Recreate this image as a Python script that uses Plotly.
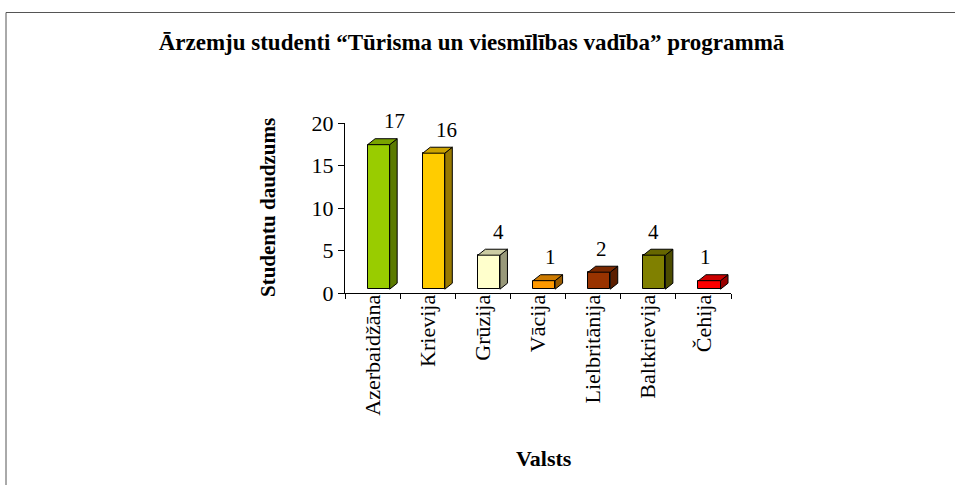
import plotly.graph_objects as go

# ---- data ----
countries = ["Azerbaidžāna", "Krievija", "Grūzija", "Vācija", "Lielbritānija", "Baltkrievija", "Čehija"]
students = [17, 16, 4, 1, 2, 4, 1]
front_colors = ["#99CC00", "#FFCC00", "#FFFFCC", "#FF9900", "#993300", "#808000", "#FF0000"]
y_ticks = [0, 5, 10, 15, 20]
y_range = [0, 20]

title_text = "Ārzemju studenti “Tūrisma un viesmīlības vadība” programmā"
y_title = "Studentu daudzums"
x_title = "Valsts"

# ---- style / geometry (3D look) ----
FLOOR = 0.45      # floor raise of front faces (data units)
BAR_W = 0.40      # front face width (category units)
SHIFT = 0.11      # front face shift right of category centre
DX = 0.136        # depth offset x
DY = 0.70         # depth offset y
SERIF = "Liberation Serif, Times New Roman, serif"


def shade(hex_color, f):
    h = hex_color.lstrip("#")
    r, g, b = (int(h[i:i + 2], 16) for i in (0, 2, 4))
    return "#%02X%02X%02X" % (int(r * f), int(g * f), int(b * f))


fig = go.Figure()
xs = [i + SHIFT for i in range(len(countries))]

# front faces
fig.add_trace(go.Bar(
    x=xs, y=students, base=[FLOOR] * len(students), width=BAR_W,
    marker=dict(color=front_colors, line=dict(color="black", width=1)),
    hoverinfo="skip", showlegend=False,
))

# side and top faces
for i, (v, c) in enumerate(zip(students, front_colors)):
    x0 = xs[i] - BAR_W / 2
    x1 = xs[i] + BAR_W / 2
    top = v + FLOOR
    side_x = [x1, x1 + DX, x1 + DX, x1, x1]
    side_y = [FLOOR, FLOOR + DY, top + DY, top, FLOOR]
    top_x = [x0, x1, x1 + DX, x0 + DX, x0]
    top_y = [top, top, top + DY, top + DY, top]
    fig.add_trace(go.Scatter(x=side_x, y=side_y, mode="lines", fill="toself",
                             fillcolor=shade(c, 0.6), line=dict(color="black", width=1),
                             hoverinfo="skip", showlegend=False))
    fig.add_trace(go.Scatter(x=top_x, y=top_y, mode="lines", fill="toself",
                             fillcolor=shade(c, 0.8), line=dict(color="black", width=1),
                             hoverinfo="skip", showlegend=False))

L, R, T, B = 345, 955 - 731, 123, 485 - 293
PW, PH = 955 - L - R, 485 - T - B


def px(xp):
    return (xp - L) / PW


def py(yp):
    return (485 - B - yp) / PH


# value labels: x in data coords, y converted from data value to paper fraction
annotations = []
for i, v in enumerate(students):
    annotations.append(dict(
        text=str(v), xref="x", yref="paper",
        x=i + 0.40 - 0.06 * i, y=(v + 3.2 - y_range[0]) / (y_range[1] - y_range[0]),
        xanchor="center", yanchor="middle", showarrow=False,
        font=dict(family=SERIF, size=21, color="black"),
    ))

annotations += [
    dict(text="<b>" + y_title + "</b>", xref="paper", yref="paper",
         x=px(268), y=0.5, xanchor="center", yanchor="middle", textangle=-90,
         showarrow=False, font=dict(family=SERIF, size=21, color="black")),
    dict(text="<b>" + x_title + "</b>", xref="paper", yref="paper",
         x=px(544), y=py(458), xanchor="center", yanchor="middle",
         showarrow=False, font=dict(family=SERIF, size=22, color="black")),
]

fig.update_layout(
    width=955, height=485,
    margin=dict(l=L, r=R, t=T, b=B),
    paper_bgcolor="white", plot_bgcolor="white",
    bargap=0,
    title=dict(text="<b>" + title_text + "</b>", x=471.5 / 955, xanchor="center",
               y=1 - 42 / 485, yanchor="middle",
               font=dict(family=SERIF, size=23, color="black")),
    xaxis=dict(
        range=[-0.5, len(countries) - 0.5],
        tickmode="array", tickvals=list(range(len(countries))), ticktext=countries,
        tickangle=-90, ticks="", showgrid=False, zeroline=False,
        showline=True, linecolor="black", linewidth=1,
        tickfont=dict(family=SERIF, size=22, color="black"),
        ticklabelstandoff=-8,
        minor=dict(tickmode="array", tickvals=[k - 0.5 for k in range(len(countries) + 1)],
                   ticks="outside", ticklen=5, tickcolor="black", tickwidth=1, showgrid=False),
        fixedrange=True,
    ),
    yaxis=dict(
        range=y_range, tickmode="array", tickvals=y_ticks,
        ticks="outside", ticklen=6, tickcolor="black", tickwidth=1,
        showgrid=False, zeroline=False,
        showline=True, linecolor="black", linewidth=1,
        tickfont=dict(family=SERIF, size=22, color="black"),
        fixedrange=True,
    ),
    annotations=annotations,
    shapes=[
        dict(type="rect", xref="paper", yref="paper",
             x0=px(6), x1=px(1100), y0=py(700), y1=py(12.5),
             line=dict(color="#555555", width=1), fillcolor="rgba(0,0,0,0)", layer="below"),
    ],
)

fig.write_html("out.html", config={"displayModeBar": False},
               post_script="document.body.style.margin='0';")
